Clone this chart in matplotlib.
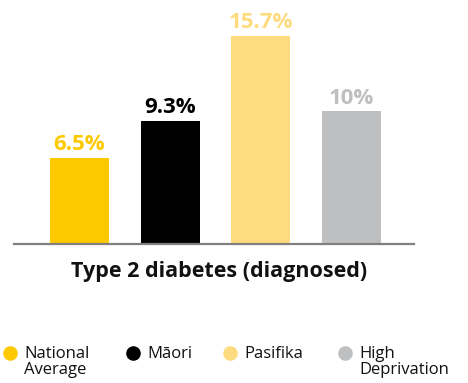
import matplotlib
matplotlib.use('Agg')
from matplotlib import pyplot as plt

plt.rcParams['font.family'] = ['Open Sans', 'DejaVu Sans']

groups = ['National\nAverage', 'Māori', 'Pasifika', 'High\nDeprivation']
values = [6.5, 9.3, 15.7, 10]
labels = ['6.5%', '9.3%', '15.7%', '10%']
colors = ['#FFC900', '#000000', '#FDDB7E', '#BEBFC1']
label_colors = ['#FFC900', '#000000', '#FDDB7E', '#BEBFC1']
title = 'Type 2 diabetes (diagnosed)'

W, H = 468, 383
fig = plt.figure(figsize=(W / 100, H / 100), dpi=100)

# plot area in pixel terms: baseline at y=244, x from 14 to 414
ax = fig.add_axes([14 / W, (H - 244) / H, 400 / W, 224 / H])
x = range(len(values))
ax.bar(x, values, width=0.648, color=colors, zorder=2)
ax.set_xlim(-0.72, 3.687)
ax.set_ylim(0, 16.9)
for s in ['top', 'right', 'left']:
    ax.spines[s].set_visible(False)
ax.spines['bottom'].set_color('#808080')
ax.spines['bottom'].set_linewidth(1.6)
ax.spines['bottom'].set_zorder(3)
ax.set_xticks([])
ax.set_yticks([])

for xi, v, lab, c in zip(x, values, labels, label_colors):
    ax.annotate(lab, (xi, v), xytext=(0, 2), textcoords='offset points',
                ha='center', va='bottom', fontsize=16, fontweight='bold', color=c)

fig.text(219 / W, 1 - 271 / H, title, ha='center', va='center',
         fontsize=15.5, fontweight='bold', color='#111111')

# legend row
leg = fig.add_axes([0, 0, 1, 1])
leg.set_xlim(0, W)
leg.set_ylim(H, 0)
leg.axis('off')
dot_x = [10, 133, 230, 345]
for dx, g, c in zip(dot_x, groups, colors):
    leg.plot(dx, 353, 'o', ms=10.5, color=c, mec='none')
    leg.text(dx + 14, 345.5, g, ha='left', va='top', fontsize=12,
             color='#111111', linespacing=1.05)

fig.savefig('out.png', dpi=100)
